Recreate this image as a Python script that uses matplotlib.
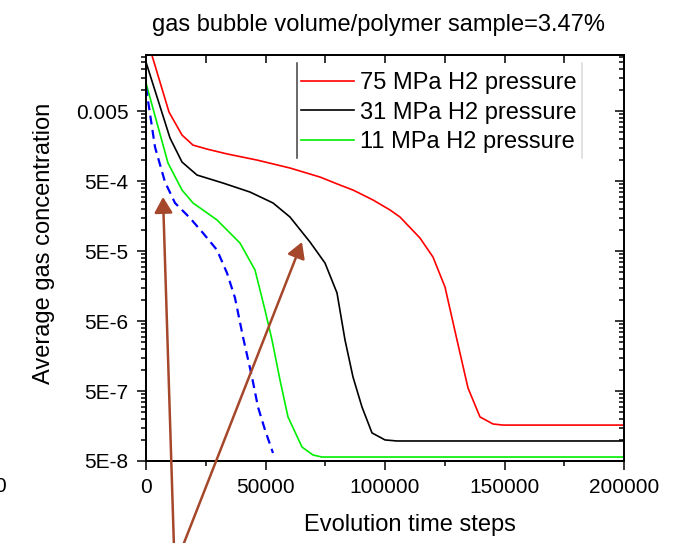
import numpy as np
import matplotlib
matplotlib.use("Agg")
import matplotlib.pyplot as plt
from matplotlib.ticker import FixedLocator, NullFormatter
from matplotlib.lines import Line2D

# ---------------- style ----------------
plt.rcParams['font.family'] = ['Liberation Sans', 'DejaVu Sans']
plt.rcParams['axes.linewidth'] = 1.1

# ---------------- data ----------------
x_75 = [0, 9623, 15063, 19665, 25523, 33891, 46443, 60251, 72803, 81172, 86611,
        94980, 102092, 106276, 114644, 120083, 125104, 130125, 134728, 139749,
        145188, 149372, 200000]
y_75 = [6.0e-2, 4.84e-3, 2.27e-3, 1.63e-3, 1.43e-3, 1.22e-3, 9.97e-4, 7.67e-4, 5.70e-4,
        4.38e-4, 3.72e-4, 2.68e-4, 1.93e-4, 1.53e-4, 7.67e-5, 4.10e-5, 1.53e-5, 2.68e-6,
        5.52e-7, 2.13e-7, 1.69e-7, 1.63e-7, 1.63e-7]

x_31 = [0, 10042, 15063, 21339, 32218, 43515, 53138, 60251, 68619, 74895, 79916,
        83264, 86611, 90377, 94561, 100000, 105020, 200000]
y_31 = [2.5e-2, 2.06e-3, 9.34e-4, 6.09e-4, 4.68e-4, 3.48e-4, 2.43e-4, 1.53e-4, 6.72e-5,
        3.37e-5, 1.26e-5, 2.68e-6, 7.92e-7, 2.95e-7, 1.26e-7, 1.0e-7, 9.66e-8, 9.66e-8]

x_11 = [0, 9205, 15063, 19665, 29707, 39331, 45607, 49791, 52720, 56067, 59414,
        65272, 69874, 73640, 200000]
y_11 = [1.256e-2, 9.04e-4, 3.72e-4, 2.43e-4, 1.39e-4, 6.50e-5, 2.68e-5, 7.18e-6, 2.68e-6,
        7.18e-7, 2.13e-7, 7.92e-8, 6.09e-8, 5.70e-8, 5.70e-8]

x_blue = [0, 3766, 7950, 12134, 18410, 23849, 29707, 33891, 37238, 40586, 44351,
          46862, 49791, 53138]
y_blue = [1.1e-2, 1.53e-3, 4.84e-4, 2.43e-4, 1.48e-4, 9.04e-5, 5.17e-5, 2.43e-5, 1.07e-5,
          2.95e-6, 7.92e-7, 2.95e-7, 1.39e-7, 6.50e-8]

labels = ['75 MPa H2 pressure', '31 MPa H2 pressure', '11 MPa H2 pressure']

y_major = [5e-8, 5e-7, 5e-6, 5e-5, 5e-4, 5e-3]
y_major_labels = ['5E-8', '5E-7', '5E-6', '5E-5', '5E-4', '0.005']
x_major = [0, 50000, 100000, 150000, 200000]
x_major_labels = ['0', '50000', '100000', '150000', '200000']

YMIN, YMAX = 5e-8, 0.0316
XMIN, XMAX = 0, 200000

# minor ticks: k/10 of each major, k=2..9 (bunched just under each major)
y_minor = [m / 10 * k for m in y_major + [5e-2] for k in range(2, 10)]
y_minor = [v for v in y_minor if YMIN < v < YMAX]

# ---------------- figure ----------------
fig = plt.figure(figsize=(6.85, 5.43), dpi=100)
ax = fig.add_axes([146 / 685, 1 - 461 / 543, 478 / 685, 406 / 543])

ax.plot(x_75, y_75, color='#ff0000', lw=1.2, label=labels[0])
ax.plot(x_31, y_31, color='black', lw=1.2, label=labels[1])
ax.plot(x_11, y_11, color='#00ee00', lw=1.2, label=labels[2])
ax.plot(x_blue, y_blue, color='#0000ff', lw=1.6, dashes=(4, 2.5))

ax.set_yscale('log')
ax.set_ylim(YMIN, YMAX)
ax.set_xlim(XMIN, XMAX)

ax.yaxis.set_major_locator(FixedLocator(y_major))
ax.set_yticklabels(y_major_labels)
ax.yaxis.set_minor_locator(FixedLocator(y_minor))
ax.yaxis.set_minor_formatter(NullFormatter())
ax.set_xticks(x_major)
ax.set_xticklabels(x_major_labels)
ax.xaxis.set_minor_locator(FixedLocator([25000, 75000, 125000, 175000]))

ax.tick_params(which='major', direction='out', length=6.5, width=1.1, labelsize=15, pad=6)
ax.tick_params(which='minor', direction='out', length=3.3, width=1.1)
ax.tick_params(top=False, right=False, which='both')

# right axis: inward ticks, no labels
axr = ax.twinx()
axr.set_yscale('log')
axr.set_ylim(YMIN, YMAX)
axr.yaxis.set_major_locator(FixedLocator(y_major))
axr.yaxis.set_minor_locator(FixedLocator(y_minor))
axr.yaxis.set_major_formatter(NullFormatter())
axr.yaxis.set_minor_formatter(NullFormatter())
axr.tick_params(which='major', direction='in', length=6.5, width=1.1)
axr.tick_params(which='minor', direction='in', length=3.3, width=1.1)

# top axis: inward ticks every 25000
axt = ax.twiny()
axt.set_xlim(XMIN, XMAX)
axt.xaxis.set_major_locator(FixedLocator(np.arange(0, 200001, 25000)))
axt.xaxis.set_major_formatter(NullFormatter())
axt.tick_params(which='major', direction='in', length=6, width=1.1)

# legend (Origin-like, with two side bars)
ax.legend(loc='upper left', bbox_to_anchor=(0.324, 0.958), frameon=False,
          fontsize=17, handlelength=2.25, handletextpad=0.25, labelspacing=0.32,
          borderpad=0, borderaxespad=0)
ax.add_line(Line2D([0.316, 0.316], [0.746, 0.980], transform=ax.transAxes,
                   color='#404040', lw=1.1))
ax.add_line(Line2D([0.912, 0.912], [0.746, 0.980], transform=ax.transAxes,
                   color='#d9d9d9', lw=1.1))

# texts
fig.text(378 / 685, 1 - 25 / 543, 'gas bubble volume/polymer sample=3.47%',
         ha='center', va='center', fontsize=17)
fig.text(410 / 685, 1 - 525 / 543, 'Evolution time steps',
         ha='center', va='center', fontsize=17)
fig.text(44 / 685, 1 - 243 / 543, 'Average gas concentration',
         ha='center', va='center', rotation=90, fontsize=17)
# partial "0" at the left edge (clipped in the reference too)
fig.text(0, 1 - 486 / 543, '0', ha='center', va='center', fontsize=15)

# arrows
arrow_col = '#a5472a'
for tail, tip in [((174, 548), (163, 197)), ((182, 548), (302, 242))]:
    fig.add_artist(matplotlib.patches.FancyArrowPatch(
        (tail[0] / 685, 1 - tail[1] / 543), (tip[0] / 685, 1 - tip[1] / 543),
        transform=fig.transFigure, arrowstyle='-|>,head_length=9.5,head_width=5.5',
        mutation_scale=1, color=arrow_col, lw=1.8, shrinkA=0, shrinkB=0))

fig.savefig('out.png', dpi=100)
